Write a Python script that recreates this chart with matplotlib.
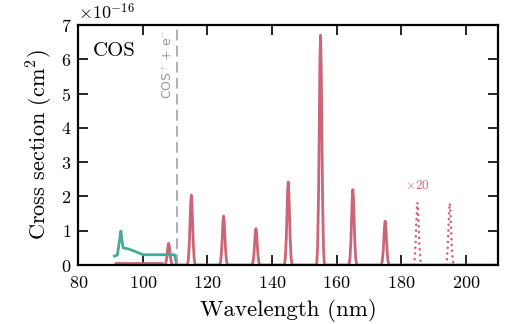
"""Photoabsorption / photoionisation cross sections of COS."""

import matplotlib

matplotlib.use("Agg")
import matplotlib.pyplot as plt
import numpy as np

plt.rcParams["font.family"] = "cmr10"
plt.rcParams["mathtext.fontset"] = "cm"
plt.rcParams["axes.unicode_minus"] = False
plt.rcParams["axes.formatter.use_mathtext"] = True

RED = "#cc6677"
GREEN = "#44aa99"

# absorption lines (nm, 1e-16 cm2)
LINE_CENTERS = [108.0, 115.0, 125.0, 135.0, 145.0, 155.0, 165.0, 175.0]
LINE_HEIGHTS = [0.63, 2.04, 1.43, 1.06, 2.42, 6.70, 2.20, 1.28]

# weak lines, shown multiplied by 20
WEAK_CENTERS = [185.0, 195.0]
WEAK_HEIGHTS = [1.82, 1.80]

# line profile: offset from centre (nm), fraction of peak
PROFILE_OFFSETS = [-1.2, -0.9, -0.6, -0.4, -0.2, 0.0, 0.2, 0.4, 0.6, 0.9, 1.2]
PROFILE_SHAPE = [0.0, 0.08, 0.32, 0.6, 0.88, 1.0, 0.88, 0.6, 0.32, 0.08, 0.0]

# continuum below the first line
CONT_WL = [91.0, 106.3]
CONT_XS = [0.05, 0.05]

# ionisation cross section
ION_WL = [91.2, 92.1, 92.6, 93.2, 93.5, 93.9, 95.5, 97.0, 98.5, 100.1, 105.0, 109.8, 110.5]
ION_XS = [0.26, 0.29, 0.60, 0.99, 0.75, 0.50, 0.47, 0.42, 0.36, 0.30, 0.30, 0.30, 0.0]

IP_WL = 110.6


def line_trace(centers, heights):
    wl = []
    xs = []
    for c, h in zip(centers, heights):
        wl.extend(c + np.array(PROFILE_OFFSETS))
        xs.extend(h * np.array(PROFILE_SHAPE))
    return np.array(wl), np.array(xs)


fig = plt.figure(figsize=(5.25, 3.24), dpi=100)
ax = fig.add_axes([0.149, 0.182, 0.8, 0.741])

ax.plot(CONT_WL, CONT_XS, color=RED, lw=2, solid_capstyle="butt")
wl, xs = line_trace(LINE_CENTERS, LINE_HEIGHTS)
ax.plot(np.r_[106.3, wl, 210], np.r_[0.0, xs, 0.0], color=RED, lw=2)

for c, h in zip(WEAK_CENTERS, WEAK_HEIGHTS):
    wl, xs = line_trace([c], [h])
    ax.plot(wl, xs, color=RED, lw=1.8, linestyle=(0, (0.1, 2.2)),
            dash_capstyle="round")
ax.text(WEAK_CENTERS[0], 2.12, r"$\times 20$", color=RED, fontsize=9.5,
        ha="center", va="bottom")

ax.plot(ION_WL, ION_XS, color=GREEN, lw=2)

ax.axvline(IP_WL, color="#999999", lw=1.1, dashes=(7, 3.5))
ax.text(IP_WL - 0.6, 6.85, r"COS$^{+}$ + e$^{-}$", color="#999999",
        family="DejaVu Sans", fontsize=9, rotation=90, ha="right", va="top")

ax.text(0.035, 0.93, "COS", transform=ax.transAxes, fontsize=15,
        ha="left", va="top")

ax.set_xlim(80, 210)
ax.set_ylim(0, 7e0)
ax.set_xticks([80, 100, 120, 140, 160, 180, 200])
ax.set_yticks(range(8))
ax.set_xlabel("Wavelength (nm)", fontsize=16.5, labelpad=6)
ax.set_ylabel(r"Cross section (cm$^2$)", fontsize=16)
ax.text(0.0, 1.01, r"$\times10^{-16}$", transform=ax.transAxes,
        fontsize=13, ha="left", va="bottom")

ax.tick_params(direction="in", length=7, width=1.2, labelsize=13,
               top=True, right=True, pad=5)
ax.tick_params(axis="x", pad=7)
for spine in ax.spines.values():
    spine.set_linewidth(1.6)

fig.savefig("out.png", dpi=100)
